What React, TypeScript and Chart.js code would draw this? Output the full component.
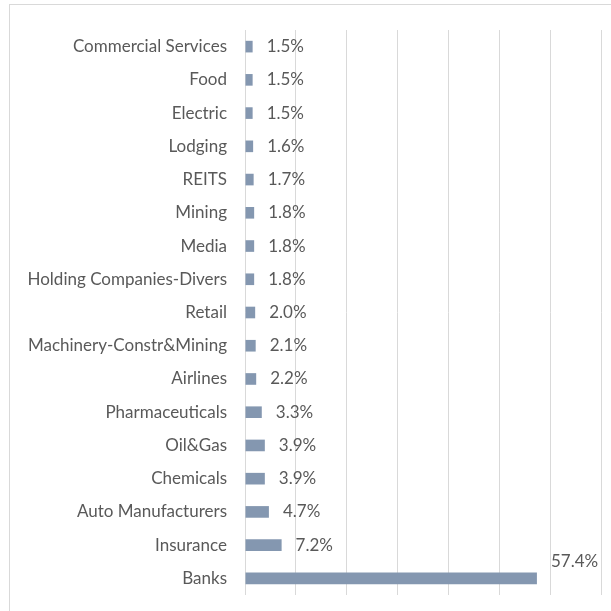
import React, { useEffect, useRef } from "react";
import { Chart, registerables } from "chart.js";

Chart.register(...registerables);

const categories = [
  "Commercial Services",
  "Food",
  "Electric",
  "Lodging",
  "REITS",
  "Mining",
  "Media",
  "Holding Companies-Divers",
  "Retail",
  "Machinery-Constr&Mining",
  "Airlines",
  "Pharmaceuticals",
  "Oil&Gas",
  "Chemicals",
  "Auto Manufacturers",
  "Insurance",
  "Banks",
];

const weights = [1.5, 1.5, 1.5, 1.6, 1.7, 1.8, 1.8, 1.8, 2.0, 2.1, 2.2, 3.3, 3.9, 3.9, 4.7, 7.2, 57.4];

const axisMin = 0;
const axisMax = 70;
const axisStep = 10;

const FONT = "Lato, 'Open Sans', sans-serif";
const TEXT = "#595959";
const FONT_SIZE = 17;

const frame = {
  id: "frame",
  beforeDraw(chart: any) {
    const ctx = chart.ctx;
    ctx.save();
    ctx.fillStyle = "#ffffff";
    ctx.fillRect(0, 0, chart.width, chart.height);
    ctx.strokeStyle = "#d9d9d9";
    ctx.lineWidth = 1;
    ctx.strokeRect(9.5, 4.5, 800, 800);
    ctx.restore();
  },
};

const valueLabels = {
  id: "valueLabels",
  afterDatasetsDraw(chart: any) {
    const ctx = chart.ctx;
    const meta = chart.getDatasetMeta(0);
    const data = chart.data.datasets[0].data as number[];
    const maxV = Math.max(...data);
    ctx.save();
    ctx.font = `${FONT_SIZE}px ${FONT}`;
    ctx.fillStyle = TEXT;
    ctx.textBaseline = "middle";
    ctx.textAlign = "left";
    meta.data.forEach((bar: any, i: number) => {
      const txt = data[i].toFixed(1) + "%";
      const x = bar.x + 14;
      let y = bar.y;
      if (data[i] === maxV) {
        y = bar.y - 17;
      }
      ctx.fillText(txt, x, y);
    });
    ctx.restore();
  },
};

export default function App() {
  const ref = useRef<HTMLCanvasElement | null>(null);
  useEffect(() => {
    document.body.style.margin = "0";
    const chart = new Chart(ref.current as HTMLCanvasElement, {
      type: "bar",
      data: {
        labels: categories,
        datasets: [
          {
            data: weights,
            backgroundColor: "#8497b0",
            barPercentage: 0.35,
            categoryPercentage: 1,
          },
        ],
      },
      options: {
        indexAxis: "y",
        animation: false,
        responsive: false,
        devicePixelRatio: 1,
        layout: { padding: { left: 0, top: 30, right: 10, bottom: 16 } },
        plugins: { legend: { display: false }, tooltip: { enabled: false } },
        scales: {
          x: {
            min: axisMin,
            max: axisMax,
            ticks: { display: false, stepSize: axisStep, padding: 0 },
            grid: { color: "#d9d9d9", lineWidth: 1, drawTicks: false },
            border: { display: false },
          },
          y: {
            ticks: { color: TEXT, font: { family: FONT, size: FONT_SIZE }, padding: 18 },
            grid: { display: false, drawTicks: false },
            border: { display: false },
            afterFit(scale: any) {
              scale.width = 245;
              scale.paddingTop = 0;
              scale.paddingBottom = 0;
            },
          },
        },
      },
      plugins: [frame, valueLabels],
    });
    return () => chart.destroy();
  }, []);
  return (
    <div style={{ position: "fixed", left: 0, top: 0, width: 611, height: 611 }}>
      <canvas ref={ref} width={611} height={611} style={{ width: 611, height: 611 }} />
    </div>
  );
}
